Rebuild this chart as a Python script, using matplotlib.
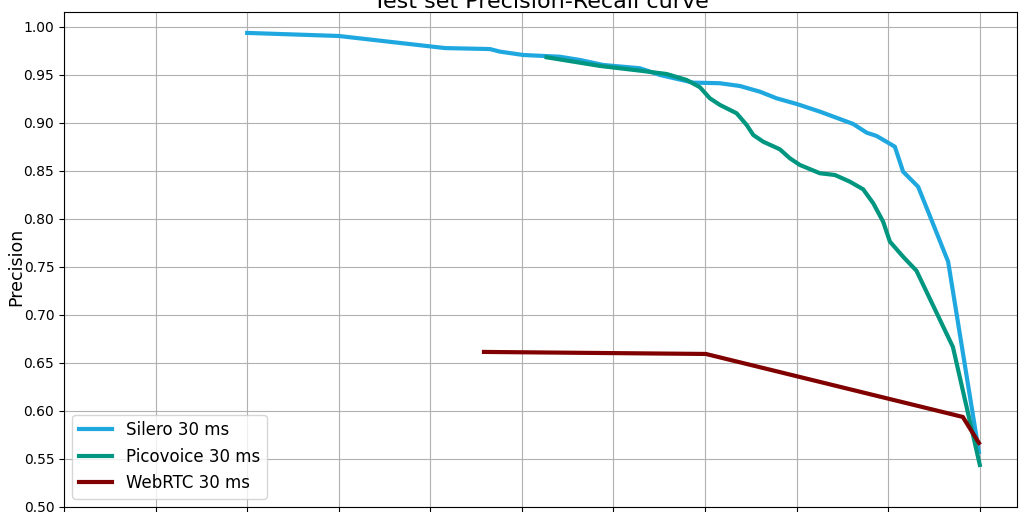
import matplotlib
matplotlib.use("Agg")
from matplotlib import pyplot as plt

# recall / precision
silero_recall = [0.600, 0.650, 0.708, 0.7325, 0.738, 0.7507, 0.7707, 0.7817, 0.7944,
                 0.8144, 0.8253, 0.8435, 0.858, 0.869, 0.8799, 0.889, 0.900, 0.9127,
                 0.9308, 0.9382, 0.9436, 0.9536, 0.9581, 0.9663, 0.9736, 0.9827, 0.9995]
silero_precision = [0.9938, 0.9906, 0.978, 0.977, 0.9743, 0.9708, 0.969, 0.9656, 0.9604,
                    0.957, 0.950, 0.942, 0.9414, 0.9385, 0.9326, 0.9257, 0.9198, 0.9118,
                    0.899, 0.8899, 0.8865, 0.8753, 0.8493, 0.8336, 0.799, 0.7555, 0.5573]

pico_recall = [0.7635, 0.7926, 0.8144, 0.829, 0.8399, 0.8472, 0.8526, 0.8581, 0.8672,
               0.8727, 0.8763, 0.8817, 0.8908, 0.8963, 0.9017, 0.9127, 0.9209, 0.929,
               0.9363, 0.9418, 0.9472, 0.9509, 0.9581, 0.9654, 0.9853, 1.000]
pico_precision = [0.9684, 0.9594, 0.9545, 0.951, 0.9448, 0.9372, 0.9257, 0.9188, 0.9101,
                  0.8979, 0.8875, 0.8805, 0.8726, 0.8632, 0.8563, 0.8476, 0.8458, 0.8389,
                  0.8309, 0.8164, 0.7972, 0.7764, 0.7607, 0.7461, 0.6667, 0.5438]

webrtc_recall = [0.7293, 0.8504, 0.9907, 0.9995]
webrtc_precision = [0.6615, 0.6594, 0.5938, 0.5667]

fig = plt.figure(figsize=(10.24, 5.12), dpi=100)
ax = fig.add_axes([0.0625, 0.0098, 0.9305, 0.9668])

ax.plot(silero_recall, silero_precision, color="#1fa8e0", linewidth=3, label="Silero 30 ms")
ax.plot(pico_recall, pico_precision, color="#00967f", linewidth=3, label="Picovoice 30 ms")
ax.plot(webrtc_recall, webrtc_precision, color="#800000", linewidth=3, label="WebRTC 30 ms")

ax.set_xlim(0.5, 1.0202)
ax.set_ylim(0.5, 1.0156)
ax.set_xticks([0.5 + 0.05 * i for i in range(11)])
ax.set_yticks([0.5 + 0.05 * i for i in range(11)])
ax.set_yticklabels(["%.2f" % (0.5 + 0.05 * i) for i in range(11)])
ax.grid()
ax.set_xlabel("Recall", fontsize=12.5)
ax.set_ylabel("Precision", fontsize=12.5)
ax.yaxis.set_label_coords(-0.041, 0.485)
ax.set_title("Test set Precision-Recall curve", fontsize=16, pad=3)
ax.legend(loc="lower left", fontsize=12)

plt.savefig("out.png")
